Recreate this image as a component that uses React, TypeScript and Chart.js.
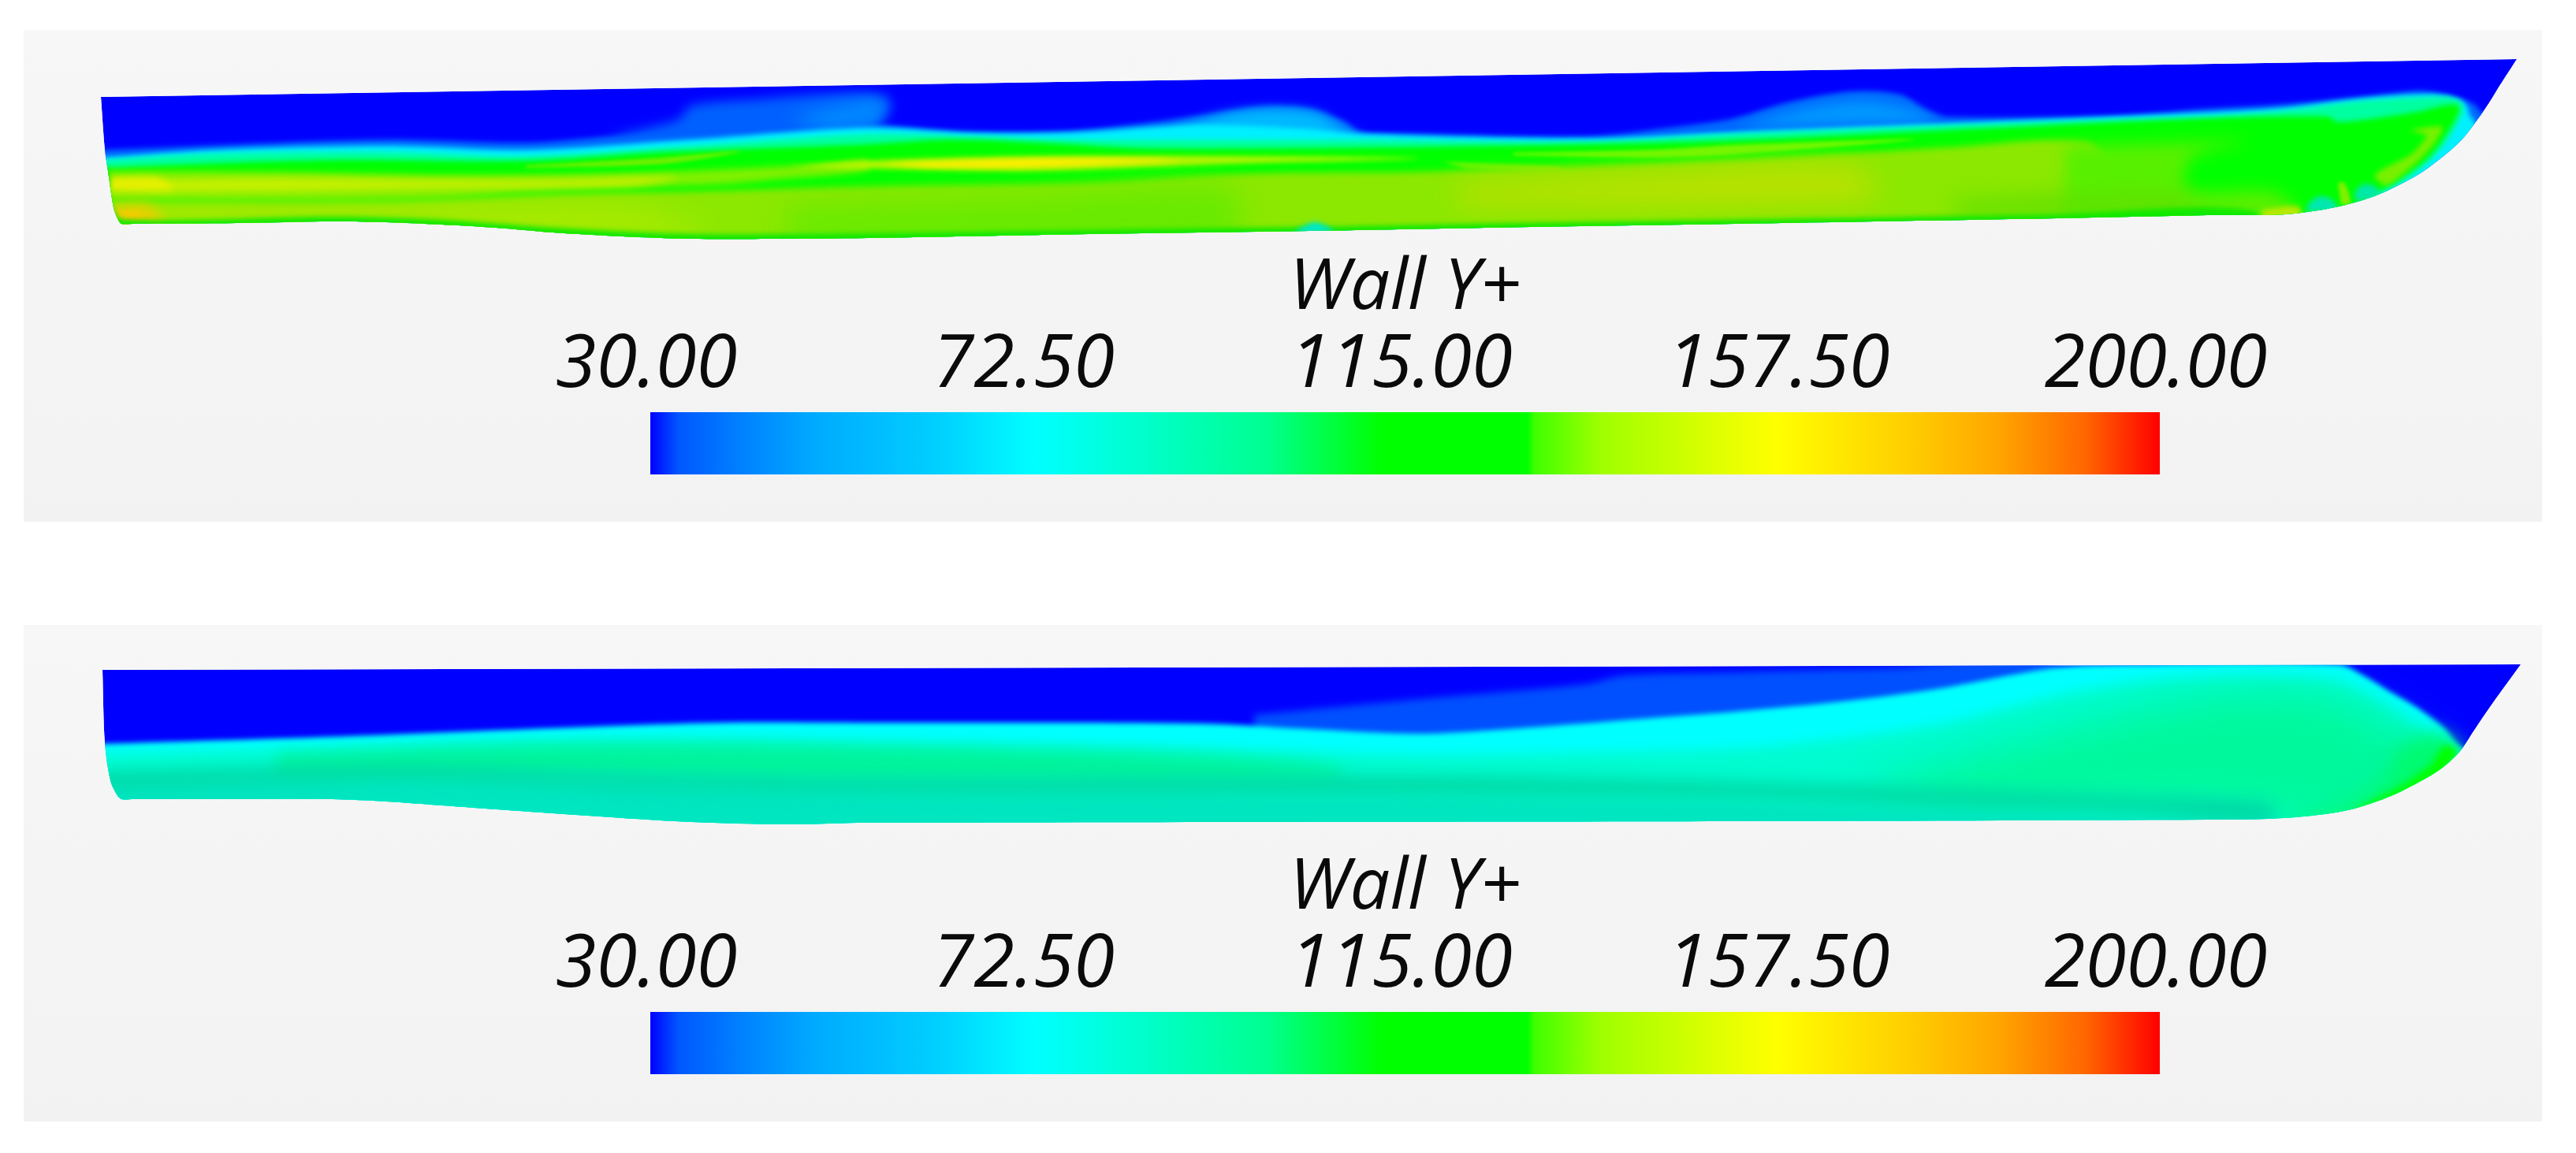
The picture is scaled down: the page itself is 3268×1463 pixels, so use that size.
import React, { useEffect, useRef } from "react";
import { Chart, registerables } from "chart.js";

Chart.register(...registerables);

type Pt = [number, number];

/* ---------- colour scale ---------- */
const colorbarLabels = ["Wall Y+"];
const colorbarRange: [number, number] = [30, 200];
const colorbarTicks = [30, 72.5, 115, 157.5, 200];
const colorbarStops = [0, 0.012, 0.019, 0.059, 0.108, 0.192, 0.255, 0.408, 0.485, 0.581, 0.586, 0.63, 0.746, 0.83, 0.89, 0.95, 1];
const colorbarColors = ["#0000ff", "#0038ff", "#0058ff", "#0080ff", "#00aaff", "#00d0ff", "#00ffff", "#00ff90", "#00ff00", "#00ff00", "#40ff00", "#a0ff00", "#ffff00", "#ffd000", "#ffa800", "#ff6800", "#ff0000"];

/* ---------- upper hull (first case) ---------- */
const topHull: Pt[] = [[128,123],[133,190],[137,217],[144,263],[149,277],[154,284],[170,284],[300,283],[421,281],[490,282],[561,285],[630,289],[702,295],[790,300],[877,303],[990,303],[1100,302],[1381,297],[1661,293],[1942,288],[2200,284],[2609,277],[2800,273],[2900,272],[2967,262],[3017,247],[3067,222],[3100,198],[3125,175],[3148,145],[3160,127],[3171,109],[3182,92],[3193,75]];
const topLightBlue: Pt[] = [[100,188],[133,190],[281,184],[491,177],[667,181],[772,173],[860,165],[960,160],[1100,158],[1233,167],[1360,166],[1521,147],[1605,135],[1661,138],[1703,153],[1725,167],[1802,170],[2012,173],[2117,162],[2200,150],[2268,130],[2350,116],[2411,120],[2445,140],[2472,148],[2677,147],[2800,138],[2900,132],[3000,122],[3067,115],[3090,117],[3117,123],[3140,133],[3149,143],[3215,145],[3215,320],[100,320]];
const topBumpBase: Pt[] = [[772,173],[860,152],[877,134],[960,126],[1050,119],[1110,120],[1130,130],[1120,150],[1100,170],[900,180]];
const topBumpOne: Pt[] = [[1000,150],[1080,130],[1120,128],[1115,155],[1050,165]];
const topBumpTwo: Pt[] = [[1480,165],[1560,143],[1620,138],[1670,143],[1700,160],[1730,172]];
const topBumpThree: Pt[] = [[2200,162],[2300,135],[2370,128],[2430,140],[2460,155]];
const topCyan: Pt[] = [[100,202],[133,200],[281,190],[491,185],[667,190],[877,177],[1100,162],[1233,169],[1360,168],[1521,158],[1661,163],[1732,170],[2012,176],[2200,168],[2472,157],[2800,143],[2900,137],[3000,125],[3083,120],[3120,127],[3130,135],[3133,145],[3150,165],[3215,170],[3215,320],[100,320]];
const topSpring: Pt[] = [[100,210],[137,203],[281,195],[491,193],[667,198],[877,185],[1100,170],[1233,173],[1360,177],[1732,177],[2012,180],[2200,170],[2472,159],[2800,148],[2900,140],[3000,128],[3100,123],[3120,128],[3125,138],[3117,158],[3100,185],[3073,212],[3047,232],[3023,245],[2990,268],[2950,320],[100,320]];
const topGreen: Pt[] = [[100,220],[140,213],[421,203],[667,204],[842,193],[1100,183],[1205,177],[1339,182],[1451,188],[1732,187],[2012,183],[2200,178],[2472,165],[2800,150],[2953,148],[2967,155],[3067,142],[3100,134],[3117,133],[3120,140],[3107,165],[3083,198],[3053,222],[3027,238],[2990,260],[2960,285],[2930,320],[100,320]];
const topSliverA: Pt[] = [[667,210],[842,200],[940,192],[842,208],[667,213]];
const topSliverB: Pt[] = [[1920,194],[2100,190],[2200,184],[2430,177],[2200,196],[2100,200],[1920,197]];
const topSliverC: Pt[] = [[1830,205],[1980,212],[1980,218],[1860,214]];
const topLimeBand: Pt[] = [[100,222],[144,217],[351,218],[561,222],[772,220],[912,215],[1053,208],[1100,204],[1100,216],[982,228],[912,234],[702,240],[561,250],[351,253],[100,253]];
const topLimeCore: Pt[] = [[100,230],[351,226],[561,228],[702,228],[860,225],[800,236],[561,240],[351,243],[100,244]];
const topSternGlow: Pt[] = [[140,226],[200,226],[220,240],[140,240]];
const topMidStreak: Pt[] = [[1000,212],[1100,204],[1310,198],[1556,198],[1800,201],[1556,208],[1310,217],[1100,214]];
const topMidCore: Pt[] = [[1120,208],[1300,202],[1450,202],[1500,204],[1300,212],[1180,212]];
const topLower: Pt[] = [[100,258],[140,257],[491,257],[702,248],[1100,237],[1381,232],[1591,220],[1802,218],[2200,203],[2472,187],[2650,181],[2680,230],[2680,320],[100,320]];
const topLowerFade: Pt[] = [[2620,185],[2790,180],[2850,180],[2780,200],[2775,240],[2880,243],[2912,265],[2912,320],[2620,320]];
const topLowerLeft: Pt[] = [[100,262],[600,258],[800,260],[900,300],[100,300]];
const topLowerCentre: Pt[] = [[1000,262],[1300,250],[1560,240],[1560,310],[1000,310]];
const topLowerYellow: Pt[] = [[1850,235],[2050,222],[2350,212],[2380,252],[1850,260]];
const topLowerGreen: Pt[] = [[2480,255],[2750,245],[2800,272],[2480,275]];
const topCorner: Pt[] = [[140,262],[190,262],[210,290],[140,290]];
const topCornerCore: Pt[] = [[150,272],[175,272],[175,288],[150,288]];
const topRim: Pt[] = [[100,200],[136,215],[140,258],[156,278],[420,275],[560,279],[700,289],[877,297],[1100,296],[1381,292],[1661,288],[1942,283],[2200,279],[2609,272],[2860,268],[2860,320],[100,320]];
const topKeelStrip: Pt[] = [[2870,266],[2915,262],[2918,275],[2870,278]];
const topKeelSpot: Pt[] = [[1640,296],[1652,288],[1668,282],[1685,288],[1695,296]];
const topBowLime: Pt[] = [[3057,165],[3097,160],[3097,168],[3077,195],[3047,222],[3027,235],[3013,222],[3060,195],[3080,172]];
const topBowBlobA: Pt[] = [[2925,268],[2930,257],[2943,249],[2958,253],[2965,262],[2960,270]];
const topBowBlobB: Pt[] = [[2988,256],[2988,243],[2998,234],[3010,235],[3020,245],[3010,252]];
const topBowStripe: Pt[] = [[2966,232],[2974,232],[2982,258],[2970,260]];

/* ---------- lower hull (second case) ---------- */
const lowHull: Pt[] = [[130,850],[133,943],[140,990],[148,1008],[154,1014],[170,1014],[300,1014],[421,1014],[490,1017],[561,1022],[630,1027],[702,1032],[790,1038],[877,1043],[996,1046],[1100,1044],[2200,1042],[2800,1040],[2877,1039],[2933,1035],[2983,1027],[3033,1010],[3073,990],[3100,973],[3122,952],[3136,931],[3150,910],[3166,887],[3182,865],[3198,843]];
const lowLightBlue: Pt[] = [[1591,907],[1802,887],[2012,868],[2061,857],[2200,853],[2391,848],[2609,846],[2609,960],[1591,960]];
const lowCyan: Pt[] = [[100,946],[133,944],[421,935],[702,924],[912,917],[1100,917],[1521,918],[1660,925],[1802,931],[1942,923],[2082,912],[2200,903],[2336,890],[2452,875],[2609,847],[2700,843],[2967,843],[3000,858],[3033,878],[3067,898],[3100,923],[3122,948],[3215,1000],[3215,1100],[100,1100]];
const lowTurquoise: Pt[] = [[100,957],[421,948],[702,940],[912,938],[1100,943],[1521,950],[1802,958],[2000,955],[2200,950],[2336,937],[2472,917],[2609,883],[2745,862],[2950,862],[3000,880],[3060,918],[3105,955],[3200,1010],[3200,1100],[100,1100]];
const lowSpringBand: Pt[] = [[350,958],[700,945],[1100,947],[1500,958],[1700,975],[1700,990],[1100,992],[700,985],[350,990]];
const lowSpringBow: Pt[] = [[2350,1000],[2550,945],[2800,885],[2950,885],[3060,940],[3120,1000],[3000,1050],[2800,1025],[2500,1025]];
const lowBottom: Pt[] = [[100,985],[421,985],[702,990],[1100,1005],[1800,1008],[2200,1015],[2500,1025],[2700,1032],[2880,1040],[2880,1100],[100,1100]];
const lowDarkBand: Pt[] = [[100,982],[491,972],[800,982],[1100,988],[1800,985],[2200,992],[2500,1002],[2700,1010],[2880,1020],[2880,1042],[2700,1028],[2500,1022],[2200,1012],[1800,1007],[1100,1007],[800,1000],[491,990],[100,1000]];
const lowNoseGlow: Pt[] = [[3040,950],[3090,930],[3120,950],[3100,990],[3050,1020],[2950,1045],[2900,1045],[2990,1015],[3030,985]];
const lowNoseCore: Pt[] = [[3100,945],[3112,948],[3118,955],[3095,985],[3060,1005],[3000,1030],[2985,1030],[3050,995],[3085,970]];

/* ---------- layer tables ---------- */
type Layer = { pts: Pt[]; color: string; blur: number };
const topLayers: Layer[] = [
  { pts: topHull, color: "#0000ff", blur: 0 },
  { pts: topLightBlue, color: "#0068ff", blur: 3 },
  { pts: topBumpBase, color: "#0060ff", blur: 7 },
  { pts: topBumpOne, color: "#0088ff", blur: 10 },
  { pts: topBumpTwo, color: "#00b8ff", blur: 7 },
  { pts: topBumpThree, color: "#0098ff", blur: 8 },
  { pts: topCyan, color: "#00f0ff", blur: 3 },
  { pts: topSpring, color: "#00ffa0", blur: 3 },
  { pts: topGreen, color: "#00ff00", blur: 3 },
  { pts: topSliverA, color: "#70f000", blur: 2 },
  { pts: topSliverB, color: "#70f800", blur: 2 },
  { pts: topSliverC, color: "#60f800", blur: 2 },
  { pts: topLimeBand, color: "#80f000", blur: 4 },
  { pts: topLimeCore, color: "#c8f000", blur: 5 },
  { pts: topSternGlow, color: "#ecf000", blur: 5 },
  { pts: topMidStreak, color: "#b8f400", blur: 3 },
  { pts: topMidCore, color: "#ffee00", blur: 3 },
  { pts: topLower, color: "#8ce800", blur: 4 },
  { pts: topLowerFade, color: "#58f000", blur: 10 },
  { pts: topLowerLeft, color: "#a8ea00", blur: 18 },
  { pts: topLowerCentre, color: "#68ea00", blur: 18 },
  { pts: topLowerYellow, color: "#bce000", blur: 18 },
  { pts: topLowerGreen, color: "#60e000", blur: 14 },
  { pts: topCorner, color: "#e8d000", blur: 8 },
  { pts: topCornerCore, color: "#ffc800", blur: 4 },
  { pts: topRim, color: "#10e800", blur: 3 },
  { pts: topKeelStrip, color: "#b8e800", blur: 3 },
  { pts: topKeelSpot, color: "#00e8c8", blur: 3 },
  { pts: topBowLime, color: "#78f000", blur: 3 },
  { pts: topBowStripe, color: "#80f000", blur: 2 },
  { pts: topBowBlobA, color: "#00e8b0", blur: 3 },
  { pts: topBowBlobB, color: "#00e8a8", blur: 3 },
];
const lowLayers: Layer[] = [
  { pts: lowHull, color: "#0000ff", blur: 0 },
  { pts: lowLightBlue, color: "#0050ff", blur: 5 },
  { pts: lowCyan, color: "#00ffff", blur: 3 },
  { pts: lowTurquoise, color: "#00fcd0", blur: 8 },
  { pts: lowSpringBand, color: "#00f49c", blur: 10 },
  { pts: lowSpringBow, color: "#00f89c", blur: 25 },
  { pts: lowBottom, color: "#00e6c0", blur: 10 },
  { pts: lowDarkBand, color: "#00d8a4", blur: 10 },
  { pts: lowNoseGlow, color: "#00fa70", blur: 12 },
  { pts: lowNoseCore, color: "#00ff00", blur: 5 },
];

/* ---------- layout ---------- */
const PANEL_LEFT = 30;
const PANEL_WIDTH = 3195;
const panels = [
  { top: 38, height: 624, layers: topLayers, bar: 523 },
  { top: 793, height: 630, layers: lowLayers, bar: 1284 },
];
const BAR_LEFT = 825;
const BAR_WIDTH = 1915;
const BAR_HEIGHT = 79;
const LEGEND_LEFT = 600;
const LEGEND_WIDTH = 2400;
const LEGEND_ABOVE = 243;
const FONT_TICK = { family: '"Open Sans"', size: 94, style: "italic", weight: "400" } as any;
const FONT_TITLE = { family: '"Open Sans"', size: 90, style: "italic", weight: "400" } as any;

const contourPlugin: any = {
  id: "contour",
  beforeDatasetsDraw(chart: any) {
    const ctx = chart.ctx;
    const hull = chart.getDatasetMeta(0).dataset;
    hull.updateControlPoints(chart.chartArea, "x");
    ctx.save();
    ctx.beginPath();
    hull.path(ctx);
    ctx.closePath();
    ctx.clip();
  },
  afterDatasetDraw(chart: any, args: any) {
    const ctx = chart.ctx;
    const ds = chart.data.datasets[args.index];
    const line = args.meta.dataset;
    line.updateControlPoints(chart.chartArea, "x");
    ctx.save();
    if (ds.blurPx) ctx.filter = `blur(${ds.blurPx}px)`;
    ctx.beginPath();
    line.path(ctx);
    ctx.closePath();
    ctx.fillStyle = ds.backgroundColor;
    ctx.fill();
    ctx.restore();
  },
  afterDatasetsDraw(chart: any) {
    chart.ctx.restore();
  },
};

function makeHull(canvas: HTMLCanvasElement, p: (typeof panels)[number]) {
  const n = p.layers.length;
  return new Chart(canvas, {
    type: "line",
    data: {
      datasets: p.layers.map((l, i) => ({
        data: l.pts.map(([x, y]) => ({ x, y })),
        backgroundColor: l.color,
        blurPx: l.blur,
        borderWidth: 0,
        borderColor: "transparent",
        pointRadius: 0,
        fill: false,
        tension: 0.3,
        order: n - i,
      })) as any,
    },
    options: {
      animation: false,
      responsive: false,
      devicePixelRatio: 1,
      layout: { padding: 0 },
      events: [],
      plugins: { legend: { display: false }, tooltip: { enabled: false }, title: { display: false } },
      scales: {
        x: { type: "linear", display: false, min: PANEL_LEFT, max: PANEL_LEFT + PANEL_WIDTH },
        y: { type: "linear", display: false, reverse: true, min: p.top, max: p.top + p.height },
      },
    },
    plugins: [contourPlugin],
  });
}

function makeLegend(canvas: HTMLCanvasElement) {
  return new Chart(canvas, {
    type: "bar",
    data: {
      labels: colorbarLabels,
      datasets: [
        {
          data: [colorbarRange] as any,
          barPercentage: 1,
          categoryPercentage: 1,
          borderWidth: 0,
          borderSkipped: false,
          backgroundColor: (c: any) => {
            const area = c.chart.chartArea;
            if (!area) return "#00ff00";
            const g = c.chart.ctx.createLinearGradient(area.left, 0, area.right, 0);
            colorbarStops.forEach((s, i) => g.addColorStop(s, colorbarColors[i]));
            return g;
          },
        },
      ],
    },
    options: {
      animation: false,
      responsive: false,
      devicePixelRatio: 1,
      indexAxis: "y",
      events: [],
      layout: { padding: { left: BAR_LEFT - LEGEND_LEFT, right: LEGEND_WIDTH - (BAR_LEFT - LEGEND_LEFT) - BAR_WIDTH, top: 0, bottom: 0 } },
      plugins: { legend: { display: false }, tooltip: { enabled: false } },
      scales: {
        y: { type: "category", display: false },
        x: {
          type: "linear",
          position: "top",
          min: colorbarRange[0],
          max: colorbarRange[1],
          border: { display: false },
          grid: { display: false, drawTicks: false },
          afterBuildTicks: (s: any) => {
            s.ticks = colorbarTicks.map((value) => ({ value }));
          },
          afterFit: (s: any) => {
            s.height = LEGEND_ABOVE;
          },
          title: { display: true, text: colorbarLabels[0], color: "#0a0a0a", font: FONT_TITLE, padding: { top: 32, bottom: 0 } },
          ticks: {
            autoSkip: false,
            maxRotation: 0,
            minRotation: 0,
            padding: 2,
            labelOffset: -5,
            color: "#0a0a0a",
            font: FONT_TICK,
            callback: (v: any) => Number(v).toFixed(2),
          },
        },
      } as any,
    },
  });
}

export default function App() {
  const hullRefs = useRef<(HTMLCanvasElement | null)[]>([]);
  const legendRefs = useRef<(HTMLCanvasElement | null)[]>([]);

  useEffect(() => {
    const charts = panels.flatMap((p, i) => [makeHull(hullRefs.current[i]!, p), makeLegend(legendRefs.current[i]!)]);
    return () => charts.forEach((c) => c.destroy());
  }, []);

  return (
    <div style={{ position: "absolute", left: 0, top: 0, width: 3268, height: 1463, background: "#fff", overflow: "hidden" }}>
      {panels.map((p, i) => (
        <React.Fragment key={i}>
          <div
            style={{
              position: "absolute",
              left: PANEL_LEFT,
              top: p.top,
              width: PANEL_WIDTH,
              height: p.height,
              background: "linear-gradient(#f7f7f7, #f2f2f2)",
            }}
          />
          <canvas
            ref={(el) => {
              hullRefs.current[i] = el;
            }}
            width={PANEL_WIDTH}
            height={p.height}
            style={{ position: "absolute", left: PANEL_LEFT, top: p.top, display: "block" }}
          />
          <canvas
            ref={(el) => {
              legendRefs.current[i] = el;
            }}
            width={LEGEND_WIDTH}
            height={LEGEND_ABOVE + BAR_HEIGHT}
            style={{ position: "absolute", left: LEGEND_LEFT, top: p.bar - LEGEND_ABOVE, display: "block" }}
          />
        </React.Fragment>
      ))}
    </div>
  );
}
